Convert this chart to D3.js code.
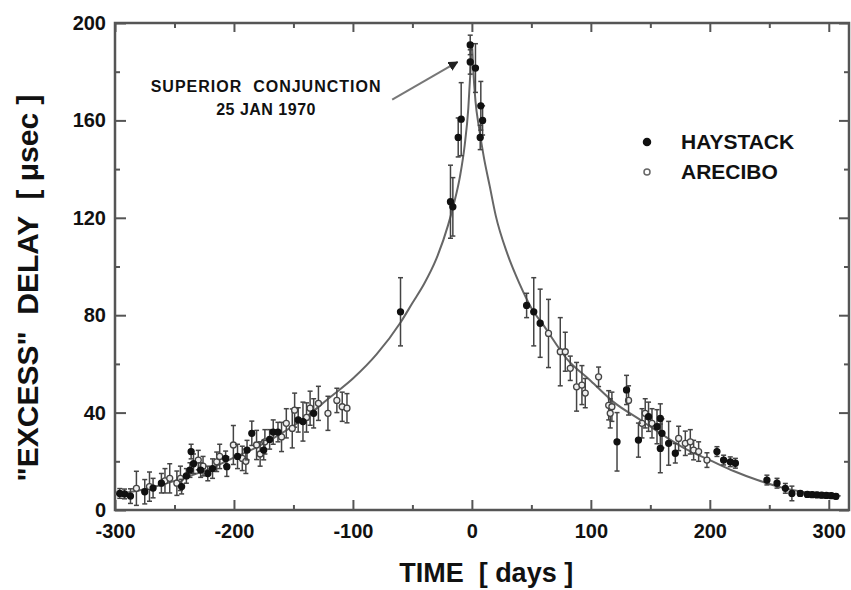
<!DOCTYPE html>
<html>
<head>
<meta charset="utf-8">
<script src="https://cdn.jsdelivr.net/npm/d3@7"></script>
<style>
  body { margin: 0; background: #fff; }
  text { font-family: "Liberation Sans", Arial, sans-serif; font-weight: bold; fill: #111; }
</style>
</head>
<body>
<div id="chart"></div>
<script>
// theoretical curve
const curveDays  = [-300,-280,-260,-240,-220,-200,-180,-160,-140,-120,-100,-80,-60,-50,-40,-30,-20,-15,-10,-6,-3,-1,0,1,3,6,10,15,20,30,40,50,60,80,100,120,140,160,180,200,220,240,260,280,300,310];
const curveDelay = [6.5,8,10.5,13.5,17,21.5,26,31.5,38,46,54,64,77,85,93,103,117,126,137,150,165,182,192,182,168,157,145,133,121,105,93,83,76,62,53,44,37.5,31,25,20.5,16,12.3,9.3,7.3,6.2,5.8];

// Haystack (filled)
const haystackDays  = [-296,-292,-287,-275,-268,-261,-244,-240,-237,-236,-234,-228,-222,-218,-207,-206,-197,-189,-185,-175,-170,-167,-163,-146,-142,-133,-60,
  -18,-16,-11.5,-9,-1.4,-1.4,3,7.5,9,7,
  46,52,57.4,122,130,140,148.5,155.6,158.4,159.8,158.4,165.4,171,206,211.6,217.2,221.5,248,256.5,263.5,269,276,282,286,290,294,298,302,306];
const haystackDelay = [6.8,6.6,5.7,7.5,9,11,9.6,14,16.4,24,19,16.4,15,17,21.2,17.8,22,24.6,31.5,24.6,29,32,32,37,36.3,39.7,81.4,
  126.6,124.5,153,160.5,191,184,181.5,166,160,153,
  84,81.4,76.7,28,49.3,28.7,38.3,34.2,37.6,31.5,25.3,27.4,23.3,24,20.5,19.8,19.2,12.3,11,8.9,6.8,6.8,6.4,6.3,6.2,6.1,6,5.9,5.6];
const haystackErr   = [2,2,3,5,4,4,3,3,3,3,4,3,3,4,3,4,5,4,5,4,4,5,4,5,8,6,14,
  15,12,8,15,4,5,10,10,6,5,
  5,14,14,12,6,7,6,7,6,6,10,9,4,2,2,2,2,2,2,2,3,1,1,1,1,1,1,1,1];

// Arecibo (open)
const areciboDays  = [-282,-271,-258,-254,-248,-245,-230,-226,-214.5,-212,-200.5,-193,-190,-181,-178,-174,-160,-156,-151,-149,-139,-136,-129,-121,-113.5,-109,-105,
  64.4,74.3,78.5,82.7,88,92.5,95.3,106.5,115,117.7,116.3,131.7,143,145.7,151.4,173.8,179.4,183.6,186.4,190.6,197.6];
const areciboDelay = [8.9,9.6,12,13,11,13,20.5,18,19.8,22,26.7,21.2,20,26.7,23,28,30,35.6,33.5,41,38,41.8,43.8,39.7,45,42.4,41.8,
  72.5,65,65,58.2,50.6,51.3,48,54.7,43,42.4,39.7,45,35.6,39.7,35.6,29.4,27.4,28,24.6,24,20.5];
const areciboErr   = [7,6,5,6,5,5,4,4,4,5,8,5,5,6,5,5,6,6,8,7,6,7,7,7,5,6,6,
  14,14,8,5,10,8,6,4,6,6,6,6,6,6,6,5,5,5,4,4,3];

const xTicks = [-300, -200, -100, 0, 100, 200, 300];
const xMinor = [-250, -150, -50, 50, 150, 250];
const yTicks = [0, 40, 80, 120, 160, 200];
const yMinor = [20, 60, 100, 140, 180];

const width = 851, height = 590;
const margin = {left: 115, right: 2, top: 23, bottom: 80};

const x = d3.scaleLinear().domain([-300, 317]).range([margin.left, width - margin.right]);
const y = d3.scaleLinear().domain([0, 200]).range([height - margin.bottom, margin.top]);

const svg = d3.select("#chart").append("svg")
  .attr("width", width).attr("height", height);

const axisColor = "#555";

function styleAxis(g) {
  g.select(".domain").remove();
  g.selectAll(".tick line").attr("stroke", axisColor).attr("stroke-width", 2);
}

// bottom
svg.append("g").attr("transform", `translate(0,${y(0)})`)
  .call(d3.axisBottom(x).tickValues(xTicks).tickSizeInner(-10).tickSizeOuter(0).tickPadding(14).tickFormat(d => String(d)))
  .call(styleAxis)
  .selectAll("text").attr("font-size", 20).attr("fill", "#111")
  .attr("font-family", "Liberation Sans, Arial, sans-serif").attr("font-weight", "bold");
svg.append("g").attr("transform", `translate(0,${y(0)})`)
  .call(d3.axisBottom(x).tickValues(xMinor).tickSizeInner(-5).tickSizeOuter(0).tickFormat(""))
  .call(styleAxis);
// top
svg.append("g").attr("transform", `translate(0,${y(200)})`)
  .call(d3.axisTop(x).tickValues(xTicks).tickSizeInner(-9).tickSizeOuter(0).tickFormat(""))
  .call(styleAxis);
svg.append("g").attr("transform", `translate(0,${y(200)})`)
  .call(d3.axisTop(x).tickValues(xMinor).tickSizeInner(-5).tickSizeOuter(0).tickFormat(""))
  .call(styleAxis);
// left
svg.append("g").attr("transform", `translate(${x(-300)},0)`)
  .call(d3.axisLeft(y).tickValues(yTicks).tickSizeInner(-11).tickSizeOuter(0).tickPadding(9))
  .call(styleAxis)
  .selectAll("text").attr("font-size", 20).attr("fill", "#111")
  .attr("font-family", "Liberation Sans, Arial, sans-serif").attr("font-weight", "bold");
svg.append("g").attr("transform", `translate(${x(-300)},0)`)
  .call(d3.axisLeft(y).tickValues(yMinor).tickSizeInner(-5).tickSizeOuter(0).tickFormat(""))
  .call(styleAxis);
// right
svg.append("g").attr("transform", `translate(${x(317)},0)`)
  .call(d3.axisRight(y).tickValues(yTicks).tickSizeInner(-10).tickSizeOuter(0).tickFormat(""))
  .call(styleAxis);
svg.append("g").attr("transform", `translate(${x(317)},0)`)
  .call(d3.axisRight(y).tickValues(yMinor).tickSizeInner(-5).tickSizeOuter(0).tickFormat(""))
  .call(styleAxis);

// frame
svg.append("rect")
  .attr("x", x(-300)).attr("y", y(200))
  .attr("width", x(317) - x(-300)).attr("height", y(0) - y(200))
  .attr("fill", "none").attr("stroke", axisColor).attr("stroke-width", 2.5);

// curve
const curve = curveDays.map((d, i) => [d, curveDelay[i]]);
svg.append("path")
  .datum(curve)
  .attr("fill", "none").attr("stroke", "#666").attr("stroke-width", 2)
  .attr("d", d3.line().x(d => x(d[0])).y(d => y(d[1])).curve(d3.curveMonotoneX));

function drawSeries(days, delay, err, filled) {
  const pts = days.map((d, i) => ({t: d, v: delay[i], e: err[i]}));
  const g = svg.append("g");
  const bars = g.selectAll("g.bar").data(pts).enter().append("g");
  bars.append("line")
    .attr("x1", d => x(d.t)).attr("x2", d => x(d.t))
    .attr("y1", d => y(d.v - d.e)).attr("y2", d => y(d.v + d.e))
    .attr("stroke", "#444").attr("stroke-width", 1.5);
  [-1, 1].forEach(s => {
    bars.append("line")
      .attr("x1", d => x(d.t) - 2.5).attr("x2", d => x(d.t) + 2.5)
      .attr("y1", d => y(d.v + s * d.e)).attr("y2", d => y(d.v + s * d.e))
      .attr("stroke", "#444").attr("stroke-width", 1.5);
  });
  g.selectAll("circle").data(pts).enter().append("circle")
    .attr("cx", d => x(d.t)).attr("cy", d => y(d.v)).attr("r", 3)
    .attr("fill", filled ? "#111" : "#eee")
    .attr("stroke", filled ? "#111" : "#444").attr("stroke-width", 1.3);
}
drawSeries(areciboDays, areciboDelay, areciboErr, false);
drawSeries(haystackDays, haystackDelay, haystackErr, true);

// annotation
svg.append("defs").append("marker")
  .attr("id", "arrow").attr("viewBox", "0 0 10 10").attr("refX", 9).attr("refY", 5)
  .attr("markerWidth", 5).attr("markerHeight", 5).attr("orient", "auto")
  .append("path").attr("d", "M0,0L10,5L0,10Z").attr("fill", "#222");
svg.append("line")
  .attr("x1", x(-67)).attr("y1", y(168.5))
  .attr("x2", x(-12)).attr("y2", y(184))
  .attr("stroke", "#777").attr("stroke-width", 2)
  .attr("marker-end", "url(#arrow)");
svg.append("text").attr("x", x(-173)).attr("y", y(171.7))
  .attr("text-anchor", "middle").attr("font-size", 16).attr("letter-spacing", 1)
  .style("white-space", "pre").text("SUPERIOR  CONJUNCTION");
svg.append("text").attr("x", x(-173)).attr("y", y(162.2))
  .attr("text-anchor", "middle").attr("font-size", 16).attr("letter-spacing", 0.5)
  .text("25 JAN 1970");

// legend
const legend = [["HAYSTACK", true], ["ARECIBO", false]];
legend.forEach(([name, filled], i) => {
  const ly = 142 + i * 30;
  svg.append("circle").attr("cx", 647).attr("cy", ly).attr("r", filled ? 3.5 : 3)
    .attr("fill", filled ? "#111" : "#fff").attr("stroke", filled ? "#111" : "#666").attr("stroke-width", 1.5);
  svg.append("text").attr("x", 681).attr("y", ly + 7).attr("font-size", 21).text(name);
});

// axis titles
svg.append("text").attr("x", x(12)).attr("y", 582)
  .attr("text-anchor", "middle").attr("font-size", 27)
  .style("white-space", "pre").text("TIME  [ days ]");
svg.append("text")
  .attr("transform", `translate(38,288) rotate(-90)`)
  .attr("text-anchor", "middle").attr("font-size", 30)
  .style("white-space", "pre").text("\"EXCESS\"  DELAY  [ \u03bcsec ]");
</script>
</body>
</html>
